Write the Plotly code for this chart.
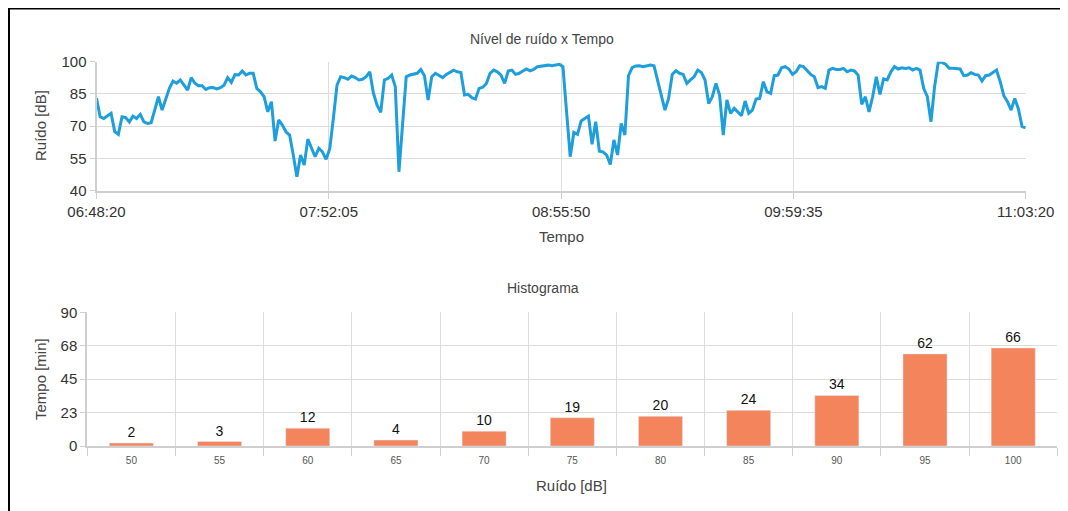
import datetime as dt
import plotly.graph_objects as go
from plotly.subplots import make_subplots

# noise level, one reading per minute starting 06:48:20
start_time = dt.datetime(2000, 1, 1, 6, 48, 20)
noise_db = [
    83, 74.4, 73.6, 75, 76, 67.5, 66.2, 74.4, 74, 72,
    74.7, 73.6, 75.5, 72, 71.3, 71.6, 77.5, 83.7, 77.5, 83,
    87.6, 91, 90, 91.5, 89.1, 86.8, 92.6, 90, 88.8, 88.8,
    87.1, 87.9, 88, 87.3, 87.9, 89.1, 92.6, 90.4, 94, 93.8,
    95.7, 93.8, 94.6, 94.6, 87.6, 86, 83.7, 76.7, 81.4, 63.1,
    72.9, 70.5, 67.4, 65.9, 56.6, 46.5, 56.6, 51.9, 64, 59.7,
    55.8, 59.7, 58.1, 54.6, 59.4, 73.6, 89.1, 93, 92.6, 91.8,
    93.3, 92.6, 91.5, 91.8, 93, 95.3, 85.3, 79.8, 76.4, 91.5,
    92.2, 93.8, 88.4, 48.8, 72.1, 93, 93.8, 94.1, 94.6, 96.4,
    93.5, 82.2, 93, 94.6, 93.5, 92.6, 94.1, 95, 96.1, 95.3,
    95, 84.5, 84.8, 83.3, 82.6, 87.6, 88.1, 89.9, 94.6, 96.1,
    95.3, 93.8, 89.9, 95.7, 96.1, 94.1, 94.6, 95.7, 96.6, 95.7,
    96.4, 97.7, 98, 98.1, 98.4, 98.1, 98.4, 98.8, 97.7, 76.7,
    55.8, 67.1, 66.2, 72.4, 73.6, 74.7, 61.6, 72.1, 58.4, 58.1,
    56.6, 52.2, 63.6, 56.6, 71.3, 65.9, 93.5, 97.2, 98, 98.1,
    97.7, 98, 98.4, 98.1, 91.5, 84.5, 77.5, 82.9, 94.1, 95.8,
    94.6, 94.1, 89.9, 91.5, 93, 96.1, 95, 91.5, 80.6, 83.7,
    89.9, 84.5, 65.9, 82.2, 76, 78.3, 76.7, 74.9, 81.7, 76,
    77.5, 82.6, 82.9, 90.7, 86, 85.3, 93.5, 93.8, 97.2, 97.7,
    96.6, 94.1, 95.3, 98.1, 97.7, 95.7, 94.1, 93, 87.9, 88.4,
    87.6, 96.1, 96.9, 96.4, 96.4, 96.9, 95.3, 96.1, 95.7, 93.8,
    80.2, 83.7, 76.7, 83.7, 93, 84.8, 92, 91.5, 95.3, 97.7,
    96.6, 97.2, 96.9, 97.2, 96.1, 96.9, 96.1, 87.6, 83.7, 72.1,
    88.4, 99.7, 99.7, 98.8, 96.9, 96.9, 96.6, 96.6, 93.5, 93.8,
    94.9, 94.1, 93.8, 91, 93.5, 93.8, 95, 96.1, 90.7, 84.2,
    81.4, 77.5, 82.9, 78, 69.8, 69.3,
]
times = [start_time + dt.timedelta(minutes=i) for i in range(len(noise_db))]

hist_bins = ["50", "55", "60", "65", "70", "75", "80", "85", "90", "95", "100"]
hist_minutes = [2, 3, 12, 4, 10, 19, 20, 24, 34, 62, 66]

top_y_ticks = [40, 55, 70, 85, 100]
bottom_y_ticks = [0, 22.5, 45, 67.5, 90]
bottom_y_text = ["0", "23", "45", "68", "90"]

end_time = times[-1]
step = (end_time - start_time) / 4
x_ticks = [start_time + step * k for k in range(5)]

OFF = 8  # page body margin, positions below are measured on screen
W, H = 1068 - OFF, 511 - OFF
FONT = "Liberation Sans, Arial, sans-serif"
GRID = "#dcdcdc"
AXIS = "#cfcfcf"

fig = make_subplots(rows=2, cols=1)

fig.add_trace(go.Scatter(x=times, y=noise_db, mode="lines",
                         line=dict(color="#1E9FDB", width=3),
                         showlegend=False), row=1, col=1)

fig.add_trace(go.Bar(x=hist_bins, y=hist_minutes, marker_color="#F4845C",
                     text=[str(v) for v in hist_minutes], textposition="outside",
                     textfont=dict(size=14, color="#111"), cliponaxis=False,
                     showlegend=False), row=2, col=1)


def px_x(a, b):
    return [(a - OFF) / W, (b - OFF) / W]


def px_y(top, bottom):
    return [1 - (bottom - OFF) / H, 1 - (top - OFF) / H]


common = dict(showgrid=True, gridcolor=GRID, gridwidth=1,
              showline=True, linecolor=AXIS, linewidth=2,
              ticks="outside", tickcolor=AXIS, automargin=False)

fig.update_layout(
    width=W, height=H,
    margin=dict(l=0, r=0, t=0, b=0, autoexpand=False),
    paper_bgcolor="white", plot_bgcolor="white",
    font=dict(family=FONT, color="#444"),
    bargap=0.5,
    xaxis=dict(domain=px_x(96.5, 1025.7), type="date",
               range=[start_time, end_time],
               tickvals=x_ticks, tickformat="%H:%M:%S", ticklen=6,
               tickfont=dict(size=15, color="#333"), zeroline=False, **common),
    yaxis=dict(domain=px_y(61.7, 190.7), range=[40, 100],
               tickvals=top_y_ticks, ticklen=5,
               tickfont=dict(size=15, color="#333"), zeroline=False, **common),
    xaxis2=dict(domain=px_x(87.3, 1057.3), type="category",
                tickson="boundaries", ticklen=8, ticklabelstandoff=4,
                tickfont=dict(size=10, color="#555"), **common),
    yaxis2=dict(domain=px_y(312.3, 446), range=[0, 90],
                tickvals=bottom_y_ticks, ticktext=bottom_y_text, ticklen=5,
                tickfont=dict(size=15, color="#333"), zeroline=False, **common),
)


def label(text, x, y, size=15, angle=0, color="#444"):
    fig.add_annotation(text=text, x=(x - OFF) / W, y=1 - (y - OFF) / H,
                       xref="paper", yref="paper",
                       showarrow=False, textangle=angle, xanchor="center",
                       yanchor="middle", font=dict(size=size, color=color))


label("Nível de ruído x Tempo", 542, 38.5, size=14)
label("Histograma", 543, 287.5, size=14)
label("Ruído [dB]", 40, 126, angle=-90)
label("Tempo", 561, 236)
label("Tempo [min]", 40, 379, angle=-90)
label("Ruído [dB]", 571, 485)

# black frame along the top and left edges (the rest runs off the page)
frame = dict(type="line", xref="paper", yref="paper",
             line=dict(color="black", width=2), layer="above")
fig.add_shape(x0=0, x1=1.05, y0=1 - 0.5 / H, y1=1 - 0.5 / H, **frame)
fig.add_shape(x0=1 / W, x1=1 / W, y0=-0.05, y1=1, **frame)

fig.write_html("out.html")
